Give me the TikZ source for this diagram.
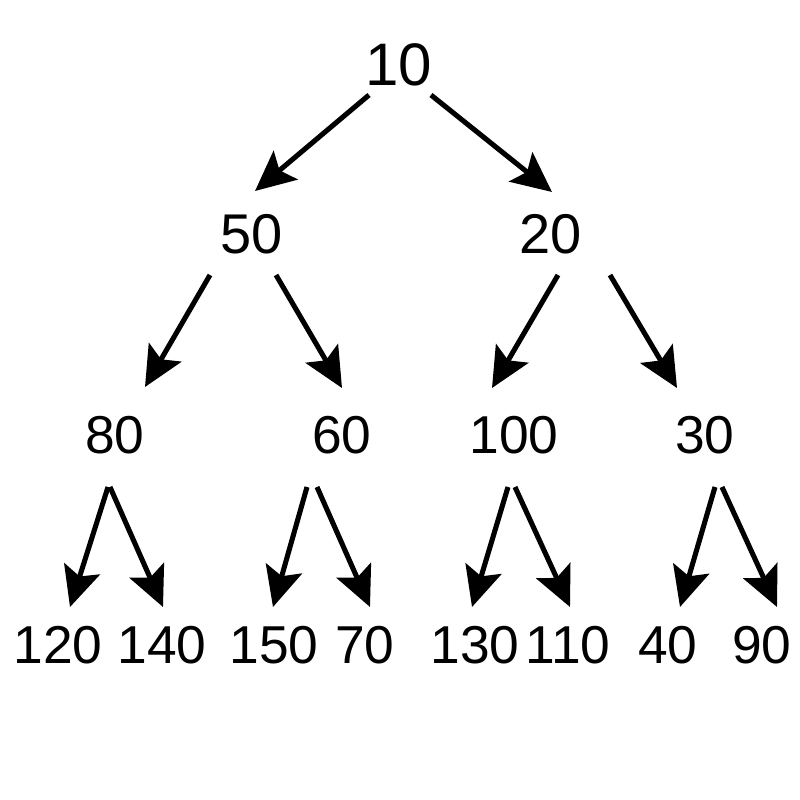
\documentclass[tikz,border=0pt]{standalone}
\usepackage{fontspec}
\setmainfont{Liberation Sans}
\usetikzlibrary{arrows.meta}
\begin{document}
\begin{tikzpicture}[x=0.75pt,y=-0.75pt,
  key/.style={anchor=base,inner sep=0pt,font=\fontsize{40pt}{48pt}\selectfont},
  rootkey/.style={key,font=\fontsize{45pt}{54pt}\selectfont},
  midkey/.style={key,font=\fontsize{42pt}{50pt}\selectfont},
  edge/.style={line width=3.8pt,-{Stealth[length=30pt,width=28pt,inset=6pt]}}]
\useasboundingbox (0,0) rectangle (800,800);
% keys, level by level
\node[rootkey] (n10) at (399,85) {10};
\node[midkey] (n50) at (252,253) {50};
\node[midkey] (n20) at (551,253) {20};
\node[key] (n80) at (115,453) {80};
\node[key] (n60) at (342,453) {60};
\node[key] (n100) at (514,453) {100};
\node[key] (n30) at (705,453) {30};
\node[key] (n120) at (58,663) {120};
\node[key] (n140) at (162,663) {140};
\node[key] (n150) at (274,663) {150};
\node[key] (n70) at (365,663) {70};
\node[key] (n130) at (475,663) {130};
\node[key] (n110) at (568,663) {110};
\node[key] (n40) at (668,663) {40};
\node[key] (n90) at (762,663) {90};
% parent -> child arrows
\draw[edge] ([shift={(-30,10)}]n10.base) -- ([shift={(3,-62)}]n50.base);
\draw[edge] ([shift={(32,10)}]n10.base) -- ([shift={(1,-61)}]n20.base);
\draw[edge] ([shift={(-42,22)}]n50.base) -- ([shift={(30,-66)}]n80.base);
\draw[edge] ([shift={(24,22)}]n50.base) -- ([shift={(0,-65)}]n60.base);
\draw[edge] ([shift={(7,22)}]n20.base) -- ([shift={(-22,-65)}]n100.base);
\draw[edge] ([shift={(59,22)}]n20.base) -- ([shift={(-28,-65)}]n30.base);
\draw[edge] ([shift={(-7,34)}]n80.base) -- ([shift={(12,-56)}]n120.base);
\draw[edge] ([shift={(-5,34)}]n80.base) -- ([shift={(1,-56)}]n140.base);
\draw[edge] ([shift={(-35,34)}]n60.base) -- ([shift={(-1,-56)}]n150.base);
\draw[edge] ([shift={(-25,34)}]n60.base) -- ([shift={(5,-56)}]n70.base);
\draw[edge] ([shift={(-6,34)}]n100.base) -- ([shift={(-3,-56)}]n130.base);
\draw[edge] ([shift={(1,34)}]n100.base) -- ([shift={(2,-56)}]n110.base);
\draw[edge] ([shift={(10,34)}]n30.base) -- ([shift={(12,-56)}]n40.base);
\draw[edge] ([shift={(17,34)}]n30.base) -- ([shift={(15,-56)}]n90.base);
\end{tikzpicture}
\end{document}
